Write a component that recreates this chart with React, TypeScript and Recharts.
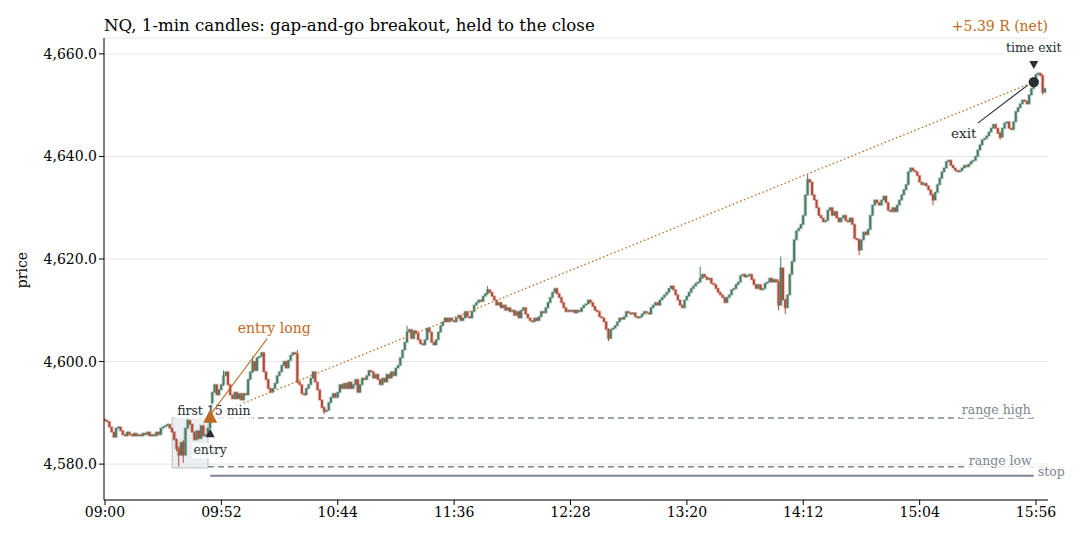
import React from "react";
import {
  ComposedChart,
  Bar,
  XAxis,
  YAxis,
  CartesianGrid,
  ReferenceLine,
  ReferenceArea,
  ReferenceDot,
} from "recharts";

// 1-min closes from 09:00 to 16:00, open of each bar = previous close
const firstOpen = 4588.75;
const closes: number[] = [
  4588.5, 4588.25, 4587.25, 4586.25, 4585.25, 4587.0, 4587.25, 4586.5, 4585.75, 4585.5,
  4586.25, 4585.75, 4585.5, 4586.0, 4585.5, 4585.75, 4585.5, 4586.0, 4585.75, 4586.25,
  4585.5, 4585.75, 4585.5, 4586.25, 4585.75, 4587.0, 4587.25, 4587.5, 4587.75, 4587.0,
  4586.25, 4584.75, 4583.0, 4581.75, 4584.25, 4581.75, 4587.0, 4588.5, 4587.75, 4586.25,
  4584.75, 4586.5, 4585.0, 4587.5, 4585.5, 4585.75, 4587.0, 4590.0, 4594.0, 4595.5,
  4593.5, 4594.5, 4595.5, 4597.25, 4598.0, 4595.5, 4593.5, 4592.75, 4594.0, 4592.75,
  4593.75, 4592.5, 4593.75, 4593.5, 4596.5, 4598.0, 4600.0, 4598.25, 4600.75, 4601.0,
  4601.75, 4598.0, 4596.5, 4594.75, 4594.0, 4594.75, 4595.75, 4597.25, 4598.0, 4599.25,
  4600.0, 4598.75, 4600.25, 4601.25, 4601.75, 4601.5, 4596.0, 4595.5, 4593.75, 4593.5,
  4594.75, 4595.5, 4596.75, 4598.0, 4596.0, 4594.5, 4592.5, 4591.0, 4590.25, 4590.5,
  4592.0, 4593.0, 4593.75, 4593.0, 4594.0, 4595.5, 4594.75, 4595.75, 4594.75, 4596.0,
  4594.75, 4595.5, 4596.5, 4594.0, 4595.5, 4596.75, 4596.5, 4597.25, 4598.25, 4598.0,
  4596.75, 4597.5, 4596.5, 4595.5, 4596.75, 4596.0, 4597.5, 4596.75, 4598.0, 4597.25,
  4598.75, 4599.25, 4600.75, 4602.25, 4603.75, 4605.75, 4606.25, 4604.5, 4606.0, 4605.5,
  4604.25, 4603.5, 4603.25, 4604.25, 4606.5, 4605.75, 4603.75, 4603.25, 4604.25, 4605.75,
  4607.0, 4607.75, 4608.5, 4607.75, 4608.5, 4608.0, 4607.75, 4608.5, 4609.0, 4608.0,
  4608.5, 4609.75, 4608.75, 4608.5, 4609.75, 4611.0, 4611.5, 4612.0, 4611.75, 4612.75,
  4613.25, 4614.0, 4613.5, 4612.75, 4612.0, 4611.0, 4611.5, 4610.5, 4611.0, 4610.0,
  4610.5, 4609.75, 4610.0, 4609.0, 4609.75, 4608.5, 4610.0, 4610.5, 4609.25, 4608.5,
  4608.0, 4607.75, 4608.5, 4608.0, 4608.75, 4609.75, 4609.5, 4610.5, 4611.5, 4612.5,
  4613.5, 4614.25, 4613.25, 4612.5, 4611.5, 4610.5, 4609.75, 4610.0, 4609.75, 4610.0,
  4609.5, 4610.0, 4609.75, 4610.5, 4611.0, 4611.25, 4612.0, 4611.5, 4610.75, 4610.0,
  4609.75, 4608.75, 4608.5, 4607.75, 4606.25, 4604.5, 4606.25, 4606.5, 4607.0, 4607.75,
  4608.5, 4608.25, 4608.75, 4609.75, 4609.5, 4609.25, 4609.5, 4608.75, 4608.5, 4608.75,
  4609.25, 4609.75, 4609.5, 4609.25, 4610.5, 4611.0, 4611.5, 4611.0, 4612.0, 4612.5,
  4613.0, 4613.5, 4614.25, 4614.75, 4614.0, 4613.0, 4612.0, 4611.0, 4610.5, 4612.0,
  4612.75, 4613.5, 4614.25, 4614.75, 4615.25, 4615.5, 4616.25, 4617.0, 4616.5, 4616.0,
  4616.25, 4615.25, 4615.0, 4614.25, 4613.5, 4613.0, 4612.5, 4611.5, 4612.5, 4613.0,
  4614.0, 4614.25, 4615.0, 4615.5, 4616.75, 4617.0, 4616.5, 4616.75, 4617.0, 4616.0,
  4615.0, 4614.25, 4615.0, 4614.0, 4614.25, 4615.25, 4615.5, 4616.25, 4615.5, 4616.0,
  4615.5, 4611.0, 4618.25, 4612.0, 4610.5, 4613.0, 4617.0, 4619.5, 4623.75, 4625.5,
  4626.0, 4626.75, 4628.5, 4632.5, 4635.5, 4635.0, 4632.5, 4631.5, 4630.0, 4628.5,
  4628.0, 4627.25, 4627.5, 4629.5, 4630.0, 4628.5, 4629.25, 4628.0, 4627.25, 4628.0,
  4628.5, 4627.5, 4627.25, 4628.0, 4626.75, 4624.0, 4623.75, 4621.75, 4623.75, 4625.25,
  4624.75, 4625.75, 4628.5, 4630.5, 4631.5, 4631.0, 4630.5, 4631.5, 4632.25, 4631.0,
  4629.5, 4629.25, 4630.0, 4629.25, 4630.5, 4631.5, 4632.5, 4633.5, 4634.5, 4637.0,
  4637.75, 4637.25, 4637.0, 4636.25, 4635.0, 4634.5, 4634.75, 4634.25, 4633.5, 4632.5,
  4631.5, 4633.0, 4634.5, 4635.75, 4637.0, 4637.75, 4639.0, 4639.25, 4638.25, 4637.75,
  4637.25, 4637.0, 4637.25, 4637.75, 4638.25, 4638.0, 4638.5, 4639.0, 4639.25, 4640.0,
  4641.25, 4642.25, 4643.25, 4643.5, 4644.0, 4644.75, 4645.5, 4646.25, 4645.5, 4644.5,
  4643.75, 4645.5, 4646.5, 4646.75, 4645.5, 4645.25, 4646.75, 4648.75, 4649.5, 4650.25,
  4651.0, 4650.75, 4650.25, 4652.0, 4653.25, 4654.5, 4656.0, 4656.25, 4655.75, 4652.5,
  4653.25,
];

// bars with visible wicks: minute -> [high, low]
const wicks: Record<number, [number, number]> = {
  32: [4585.0, 4582.5],
  33: [4583.5, 4579.5],
  35: [4584.75, 4580.25],
  37: [4589.0, 4587.0],
  53: [4598.25, 4595.25],
  66: [4601.0, 4597.75],
  86: [4602.25, 4595.75],
  98: [4591.25, 4589.75],
  135: [4607.0, 4603.75],
  171: [4614.75, 4613.0],
  225: [4606.5, 4604.0],
  266: [4618.5, 4615.5],
  301: [4616.0, 4610.0],
  302: [4620.5, 4611.0],
  304: [4612.25, 4609.25],
  314: [4636.5, 4632.5],
  337: [4624.0, 4620.75],
  370: [4632.75, 4630.5],
  400: [4644.75, 4643.25],
  419: [4656.0, 4652.0],
};

const xTicks = [0, 52, 104, 156, 208, 260, 312, 364, 416];
const yTicks = [4580, 4600, 4620, 4640, 4660];

const orStart = 30;
const orEnd = 46;
const rangeHigh = 4589.0;
const rangeLow = 4579.5;
const stopPrice = 4577.75;
const entryMin = 47;
const entryPrice = 4589.25;
const entryMark = 4586.0;
const exitMin = 415;
const exitPrice = 4654.5;
const lastMin = 421;

const GREEN = "#4a7d66";
const RED = "#b24b37";
const ORANGE = "#bf6a22";
const SLATE = "#7c8592";
const INK = "#2a2e35";
const FONT = "DejaVu Serif";

const rows = closes.map((c, i) => {
  const o = i === 0 ? firstOpen : closes[i - 1];
  const w = wicks[i];
  const hi = w ? w[0] : Math.max(o, c);
  const lo = w ? w[1] : Math.min(o, c);
  return { m: i, o, c, hi, lo, range: [lo, hi] };
});

const hhmm = (m: number) => {
  const h = 9 + Math.floor(m / 60);
  const mm = m % 60;
  return `${String(h).padStart(2, "0")}:${String(mm).padStart(2, "0")}`;
};

const Candle = (props: any) => {
  const { x, y, width, height, payload } = props;
  if (!payload) return null;
  const { o, c, hi, lo } = payload;
  const color = c >= o ? GREEN : RED;
  const top0 = Math.min(y, y + height);
  const h = Math.abs(height);
  const span = hi - lo;
  const py = (v: number) => (span > 0 ? top0 + ((hi - v) / span) * h : top0);
  const bTop = py(Math.max(o, c));
  const bBot = py(Math.min(o, c));
  const cx = x + width / 2;
  return (
    <g>
      <line x1={cx} x2={cx} y1={top0} y2={top0 + h} stroke={color} strokeWidth={1} />
      <rect
        x={x}
        y={bTop}
        width={width}
        height={Math.max(bBot - bTop, 1)}
        fill={color}
        stroke={color}
        strokeOpacity={0.32}
        strokeWidth={1.8}
      />
    </g>
  );
};

// text with a translucent white box behind it
const Label = ({ x, y, text, w, anchor = "start", size = 12.5, color = INK }: any) => {
  const left = anchor === "start" ? x : anchor === "end" ? x - w : x - w / 2;
  return (
    <g>
      <rect x={left - 2} y={y - size + 1} width={w + 4} height={size + 3} fill="#ffffff" fillOpacity={0.8} />
      <text x={x} y={y} textAnchor={anchor} fontFamily={FONT} fontSize={size} fill={color}>
        {text}
      </text>
    </g>
  );
};

export default function App() {
  return (
    <div style={{ position: "absolute", left: 0, top: 0, width: 1080, height: 540, background: "#fff" }}>
      <ComposedChart
        width={1080}
        height={540}
        data={rows}
        margin={{ top: 38, right: 32, bottom: 10, left: 44 }}
      >
        <CartesianGrid vertical={false} stroke="#e6e6e6" />
        <XAxis
          dataKey="m"
          type="number"
          domain={[-0.45, 421.35]}
          ticks={xTicks}
          tickFormatter={hhmm}
          allowDataOverflow
          height={30}
          stroke="#000"
          tickSize={5}
          tick={{ fontFamily: FONT, fontSize: 14, fill: "#000" }}
        />
        <YAxis
          type="number"
          domain={[4573, 4663.1]}
          ticks={yTicks}
          allowDataOverflow
          width={60}
          stroke="#000"
          tickSize={5}
          tickFormatter={(v: number) =>
            v.toLocaleString("en-US", { minimumFractionDigits: 1, maximumFractionDigits: 1 })
          }
          tick={{ fontFamily: FONT, fontSize: 14, fill: "#000" }}
        />
        <ReferenceArea
          x1={orStart}
          x2={orEnd}
          y1={rangeLow - 0.25}
          y2={rangeHigh}
          fill="#dfe4e9"
          fillOpacity={0.6}
          stroke="#b9c0c8"
          strokeWidth={1}
        />
        <Bar dataKey="range" barSize={2} shape={Candle} isAnimationActive={false} />
        <ReferenceLine
          segment={[{ x: orEnd, y: rangeHigh }, { x: exitMin, y: rangeHigh }]}
          stroke={SLATE}
          strokeWidth={1.5}
          strokeDasharray="6 4"
        />
        <ReferenceLine
          segment={[{ x: orEnd, y: rangeLow }, { x: lastMin, y: rangeLow }]}
          stroke={SLATE}
          strokeWidth={1.5}
          strokeDasharray="6 4"
        />
        <ReferenceLine
          segment={[{ x: entryMin, y: stopPrice }, { x: exitMin, y: stopPrice }]}
          stroke={SLATE}
          strokeWidth={2}
        />
        <ReferenceLine
          segment={[{ x: entryMin, y: entryPrice }, { x: exitMin, y: exitPrice }]}
          stroke={ORANGE}
          strokeWidth={1.3}
          strokeDasharray="1.5 2.5"
        />
        <ReferenceDot
          x={orStart}
          y={rangeHigh}
          r={0}
          shape={(p: any) => <Label x={p.cx + 5} y={p.cy - 3} text="first 15 min" w={74} />}
        />
        <ReferenceDot
          x={exitMin}
          y={rangeHigh}
          r={0}
          shape={(p: any) => (
            <Label x={p.cx - 3} y={p.cy - 4} text="range high" w={69} anchor="end" color={SLATE} />
          )}
        />
        <ReferenceDot
          x={exitMin}
          y={rangeLow}
          r={0}
          shape={(p: any) => (
            <Label x={p.cx - 2} y={p.cy - 2} text="range low" w={64} anchor="end" color={SLATE} />
          )}
        />
        <ReferenceDot
          x={exitMin}
          y={stopPrice}
          r={0}
          shape={(p: any) => <Label x={p.cx + 4} y={p.cy} text="stop" w={26} color={SLATE} />}
        />
        <ReferenceDot
          x={entryMin}
          y={entryMark}
          r={0}
          shape={(p: any) => (
            <g>
              <polygon
                points={`${p.cx},${p.cy - 4.5} ${p.cx - 4.5},${p.cy + 4} ${p.cx + 4.5},${p.cy + 4}`}
                fill={INK}
              />
              <Label x={p.cx} y={p.cy + 21} text="entry" w={33} anchor="middle" />
            </g>
          )}
        />
        <ReferenceDot
          x={entryMin}
          y={entryPrice}
          r={0}
          shape={(p: any) => (
            <g>
              <line x1={p.cx + 1} y1={p.cy - 3} x2={p.cx + 57} y2={p.cy - 78} stroke={ORANGE} strokeWidth={1.1} />
              <polygon
                points={`${p.cx},${p.cy - 7.5} ${p.cx - 7},${p.cy + 6} ${p.cx + 7},${p.cy + 6}`}
                fill={ORANGE}
              />
              <text x={p.cx + 64} y={p.cy - 84} textAnchor="middle" fontFamily={FONT} fontSize={14} fill={ORANGE}>
                entry long
              </text>
            </g>
          )}
        />
        <ReferenceDot
          x={exitMin}
          y={exitPrice}
          r={0}
          shape={(p: any) => (
            <g>
              <line x1={p.cx - 56} y1={p.cy + 41} x2={p.cx - 6} y2={p.cy + 3} stroke={INK} strokeWidth={1.1} />
              <circle cx={p.cx} cy={p.cy} r={5.2} fill={INK} />
              <text x={p.cx - 70} y={p.cy + 56} textAnchor="middle" fontFamily={FONT} fontSize={13.5} fill={INK}>
                exit
              </text>
              <polygon
                points={`${p.cx - 4.5},${p.cy - 21} ${p.cx + 4.5},${p.cy - 21} ${p.cx},${p.cy - 13}`}
                fill={INK}
              />
              <Label x={p.cx} y={p.cy - 30} text="time exit" w={56} anchor="middle" />
            </g>
          )}
        />
      </ComposedChart>
      <svg width={1080} height={540} style={{ position: "absolute", left: 0, top: 0, pointerEvents: "none" }}>
        <text x={104} y={30.5} fontFamily={FONT} fontSize={16.6} fill="#000">
          NQ, 1-min candles: gap-and-go breakout, held to the close
        </text>
        <text x={1048} y={31} textAnchor="end" fontFamily={FONT} fontSize={14} fill={ORANGE}>
          +5.39 R (net)
        </text>
        <text x={27} y={270} textAnchor="middle" transform="rotate(-90 27 270)" fontFamily={FONT} fontSize={14} fill="#000">
          price
        </text>
      </svg>
    </div>
  );
}
